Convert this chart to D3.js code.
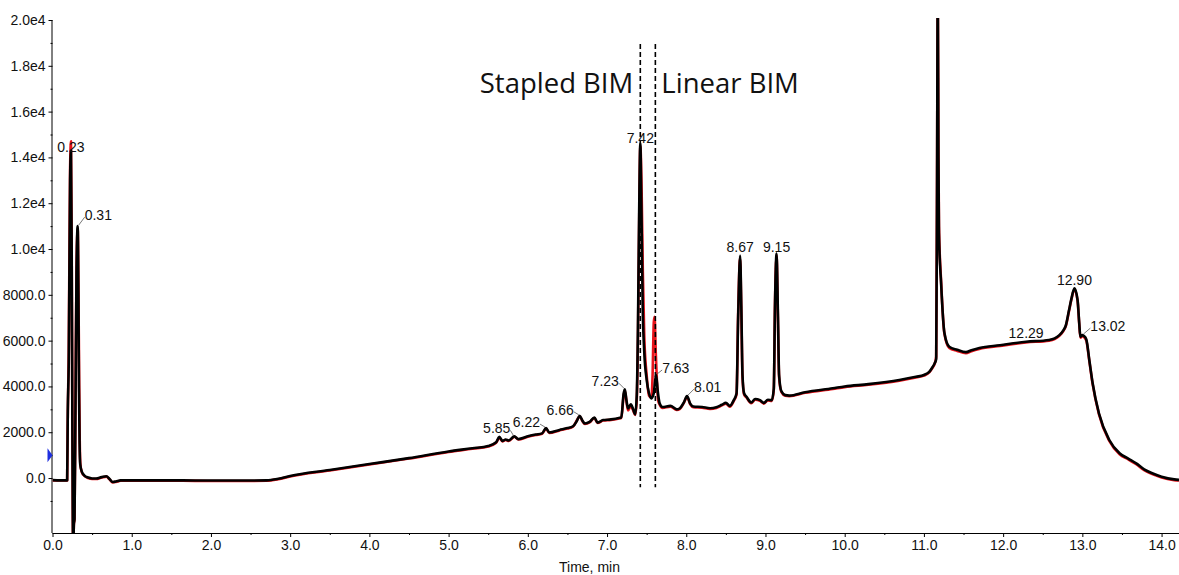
<!DOCTYPE html>
<html>
<head>
<meta charset="utf-8">
<script src="https://cdn.jsdelivr.net/npm/d3@7"></script>
<style>
  body { margin: 0; background: #fff; }
  svg text { font-family: "Liberation Sans", Arial, sans-serif; }
</style>
</head>
<body>
<svg id="chart"></svg>
<script>
// chromatogram traces: [time (min), intensity]
const blackTrace = [
  [0.00,-90],[0.10,-100],[0.185,-100],[0.193,2900],[0.205,5000],[0.222,13000],[0.233,14300],
  [0.242,10000],[0.25,3000],[0.256,-1500],[0.262,-3200],[0.27,-2000],[0.278,-1800],[0.29,3000],
  [0.303,9000],[0.318,11000],[0.327,8000],[0.334,4000],[0.342,1500],[0.35,600],[0.37,280],
  [0.40,120],[0.45,20],[0.50,-20],[0.55,-20],[0.62,40],[0.68,80],[0.72,-40],[0.76,-170],
  [0.80,-150],[0.86,-100],[1.2,-100],[1.6,-100],[2.0,-110],[2.4,-110],[2.7,-100],[2.85,-30],
  [3.0,90],[3.5,350],[4.0,610],[4.5,870],[5.0,1160],[5.3,1300],[5.5,1400],[5.6,1560],
  [5.64,1800],[5.68,1620],[5.72,1680],[5.76,1640],[5.83,1820],[5.88,1700],[6.0,1820],[6.1,1900],
  [6.18,1950],[6.23,2180],[6.27,1990],[6.4,2100],[6.5,2180],[6.57,2260],[6.62,2500],[6.655,2720],
  [6.69,2500],[6.72,2380],[6.78,2450],[6.84,2640],[6.88,2420],[6.95,2530],[7.05,2560],[7.15,2620],
  [7.18,2650],[7.21,3700],[7.225,3880],[7.245,3400],[7.265,3040],[7.30,3220],[7.33,3000],
  [7.355,2780],[7.375,3600],[7.39,6500],[7.405,11500],[7.42,14600],[7.435,11500],[7.45,7500],
  [7.47,5500],[7.50,4300],[7.53,3700],[7.56,3480],[7.59,3700],[7.605,4200],[7.62,4500],
  [7.64,3800],[7.665,3250],[7.70,3100],[7.80,3150],[7.88,3000],[7.92,3050],[7.97,3300],
  [8.01,3580],[8.05,3250],[8.09,3120],[8.2,3100],[8.3,3050],[8.38,3090],[8.45,3200],[8.5,3280],
  [8.55,3150],[8.6,3400],[8.635,3700],[8.655,7000],[8.68,9700],[8.695,7500],[8.71,4500],
  [8.73,3700],[8.76,3550],[8.82,3300],[8.87,3450],[8.93,3400],[8.98,3280],[9.03,3420],
  [9.08,3400],[9.105,3900],[9.12,7500],[9.14,9800],[9.157,7200],[9.172,4500],[9.20,3800],
  [9.25,3620],[9.30,3600],[9.5,3750],[9.85,3920],[10.0,4000],[10.3,4100],[10.69,4280],
  [10.9,4420],[11.0,4500],[11.07,4650],[11.11,4850],[11.135,5000],[11.155,5200],[11.165,12000],
  [11.175,21500],[11.183,14000],[11.19,10700],[11.217,8500],[11.259,6330],[11.32,5730],
  [11.42,5600],[11.53,5500],[11.6,5580],[11.7,5680],[11.96,5800],[12.29,5950],[12.58,6030],
  [12.65,6100],[12.71,6240],[12.76,6450],[12.79,6650],[12.83,7300],[12.86,7800],[12.90,8280],
  [12.94,7770],[12.96,6800],[12.975,6170],[13.0,6240],[13.02,6200],[13.05,6050],[13.09,5100],
  [13.13,4140],[13.21,2820],[13.34,1660],[13.47,1080],[13.58,850],[13.68,640],[13.78,380],
  [13.89,200],[14.0,60],[14.16,-60],[14.22,-80]
];

const redTrace = [
  [0.00,-100],[0.10,-110],[0.185,-110],[0.19,2000],[0.205,5500],[0.222,13500],[0.233,14700],
  [0.242,10500],[0.25,3200],[0.256,-1500],[0.262,-3200],[0.27,-2000],[0.278,-1800],[0.29,3200],
  [0.303,9200],[0.318,10900],[0.327,8500],[0.336,4500],[0.344,1600],[0.352,600],[0.37,260],
  [0.40,100],[0.45,0],[0.50,-40],[0.55,-40],[0.62,20],[0.68,60],[0.72,-60],[0.76,-190],
  [0.80,-170],[0.86,-120],[1.2,-120],[1.6,-120],[2.0,-130],[2.4,-130],[2.7,-120],[2.85,-50],
  [3.0,70],[3.5,330],[4.0,590],[4.5,850],[5.0,1140],[5.3,1280],[5.5,1380],[5.6,1540],
  [5.64,1760],[5.68,1600],[5.72,1660],[5.76,1620],[5.83,1800],[5.88,1680],[6.0,1800],[6.1,1880],
  [6.18,1930],[6.23,2160],[6.27,1970],[6.4,2080],[6.5,2160],[6.57,2240],[6.62,2520],[6.655,2700],
  [6.69,2480],[6.72,2360],[6.78,2430],[6.84,2620],[6.88,2400],[6.95,2510],[7.05,2540],[7.15,2600],
  [7.18,2630],[7.21,3600],[7.225,3800],[7.245,3350],[7.265,2950],[7.30,3150],[7.33,2950],
  [7.355,2750],[7.375,3400],[7.39,6000],[7.405,11000],[7.42,14500],[7.437,12500],[7.452,9000],
  [7.47,6200],[7.50,4500],[7.53,3600],[7.56,3500],[7.575,4500],[7.59,6800],[7.60,7040],
  [7.615,5500],[7.63,4200],[7.645,3400],[7.665,3200],[7.70,3060],[7.80,3120],[7.88,2970],
  [7.92,3020],[7.97,3280],[8.01,3540],[8.05,3220],[8.09,3090],[8.2,3070],[8.3,3020],[8.38,3060],
  [8.45,3170],[8.5,3250],[8.55,3120],[8.6,3370],[8.635,3650],[8.655,7200],[8.68,9600],
  [8.695,7300],[8.71,4400],[8.73,3650],[8.76,3520],[8.82,3270],[8.87,3420],[8.93,3370],
  [8.98,3250],[9.03,3390],[9.08,3370],[9.105,3850],[9.12,7600],[9.14,9700],[9.157,7000],
  [9.172,4400],[9.20,3760],[9.25,3590],[9.30,3570],[9.5,3720],[9.85,3890],[10.0,3970],
  [10.3,4070],[10.69,4250],[10.9,4390],[11.0,4470],[11.07,4620],[11.11,4820],[11.135,4980],
  [11.155,5300],[11.165,12500],[11.175,21500],[11.183,14500],[11.19,11000],[11.217,8600],
  [11.259,6300],[11.32,5680],[11.42,5550],[11.53,5450],[11.6,5540],[11.7,5640],[11.96,5770],
  [12.29,5920],[12.58,6000],[12.65,6070],[12.71,6210],[12.76,6420],[12.79,6620],[12.83,7260],
  [12.86,7760],[12.90,8240],[12.94,7730],[12.96,6760],[12.975,6130],[13.0,6200],[13.02,6160],
  [13.05,6000],[13.09,5060],[13.13,4100],[13.21,2780],[13.34,1620],[13.47,1040],[13.58,810],
  [13.68,600],[13.78,340],[13.89,160],[14.0,20],[14.16,-90],[14.22,-110]
];

const peakTimes = [0.23, 0.31, 5.85, 6.22, 6.66, 7.23, 7.42, 7.63, 8.01, 8.67, 9.15, 12.29, 12.90, 13.02];
const peakTexts = ["0.23", "0.31", "5.85", "6.22", "6.66", "7.23", "7.42", "7.63", "8.01", "8.67", "9.15", "12.29", "12.90", "13.02"];

const xTickValues = [0,1,2,3,4,5,6,7,8,9,10,11,12,13,14];
const xTickLabels = ["0.0","1.0","2.0","3.0","4.0","5.0","6.0","7.0","8.0","9.0","10.0","11.0","12.0","13.0","14.0"];
const xMinorTicks = [0.5,1.5,2.5,3.5,4.5,5.5,6.5,7.5,8.5,9.5,10.5,11.5,12.5,13.5];
const yTickValues = [0,2000,4000,6000,8000,10000,12000,14000,16000,18000,20000];
const yTickLabels = ["0.0","2000.0","4000.0","6000.0","8000.0","1.0e4","1.2e4","1.4e4","1.6e4","1.8e4","2.0e4"];
const yMinorTicks = [-1000,1000,3000,5000,7000,9000,11000,13000,15000,17000,19000];

const dividerTimes = [7.42, 7.61];
const regionNames = ["Stapled BIM", "Linear BIM"];
const markerValue = 1000;

const svgWidth = 1179, svgHeight = 575;
const margin = { top: 20, right: 0, bottom: 42, left: 52.5 };
const width = svgWidth - margin.left - margin.right;
const height = svgHeight - margin.top - margin.bottom;

const svg = d3.select("#chart")
  .attr("width", svgWidth)
  .attr("height", svgHeight);

const g = svg.append("g")
  .attr("transform", "translate(" + margin.left + "," + margin.top + ")");

const xScale = d3.scaleLinear().domain([0, 14.22]).range([0, width]);
const yScale = d3.scaleLinear().domain([-2400, 20000]).range([height, 0]);

g.append("clipPath").attr("id", "plotClip")
  .append("rect")
  .attr("x", 0).attr("y", -2)
  .attr("width", width).attr("height", height + 2);

// axes: minor ticks first, then major ticks with labels
g.append("g")
  .attr("transform", "translate(0," + height + ")")
  .call(d3.axisBottom(xScale).tickValues(xMinorTicks).tickSize(2).tickFormat(""))
  .call(a => a.select(".domain").remove());

g.append("g")
  .attr("transform", "translate(0," + height + ")")
  .call(d3.axisBottom(xScale).tickValues(xTickValues).tickSize(4).tickSizeOuter(0).tickPadding(3)
    .tickFormat((d, i) => xTickLabels[i]))
  .call(a => a.select(".domain").attr("d", "M0,0.5H" + width))
  .call(a => a.selectAll("text").attr("font-size", 14).attr("fill", "#111"));

g.append("g")
  .call(d3.axisLeft(yScale).tickValues(yMinorTicks).tickSize(2).tickFormat(""))
  .call(a => a.select(".domain").remove());

g.append("g")
  .call(d3.axisLeft(yScale).tickValues(yTickValues).tickSize(4).tickSizeOuter(0).tickPadding(3)
    .tickFormat((d, i) => yTickLabels[i]))
  .call(a => a.select(".domain").attr("d", "M-0.5,0V" + height))
  .call(a => a.selectAll("text").attr("font-size", 14).attr("fill", "#111"));

g.append("text")
  .attr("x", svgWidth / 2 - margin.left)
  .attr("y", height + 39)
  .attr("text-anchor", "middle")
  .attr("font-size", 14)
  .attr("fill", "#111")
  .text("Time, min");

// blue marker on the y axis
g.append("path")
  .attr("d", "M-5," + (yScale(markerValue) - 7) + "L0," + yScale(markerValue) + "L-5," + (yScale(markerValue) + 7) + "Z")
  .attr("fill", "#1f2fe0");

const line = d3.line()
  .x(d => xScale(d[0]))
  .y(d => yScale(d[1]))
  .curve(d3.curveMonotoneX);

const traces = g.append("g").attr("clip-path", "url(#plotClip)");

traces.append("path")
  .datum(redTrace)
  .attr("fill", "none")
  .attr("stroke", "#e8141b")
  .attr("stroke-width", 2.6)
  .attr("stroke-linejoin", "round")
  .attr("d", line);

traces.append("path")
  .datum(blackTrace)
  .attr("fill", "none")
  .attr("stroke", "#000")
  .attr("stroke-width", 2.6)
  .attr("stroke-linejoin", "round")
  .attr("d", line);

// dashed dividers and region names
g.selectAll(".divider")
  .data(dividerTimes)
  .join("line")
  .attr("class", "divider")
  .attr("x1", d => xScale(d)).attr("x2", d => xScale(d))
  .attr("y1", yScale(18950)).attr("y2", yScale(-400))
  .attr("stroke", "#000")
  .attr("stroke-width", 1.6)
  .attr("stroke-dasharray", "5,3");

g.selectAll(".region")
  .data(regionNames)
  .join("text")
  .attr("class", "region")
  .attr("x", (d, i) => xScale(dividerTimes[i]) + (i === 0 ? -7 : 6))
  .attr("y", yScale(16800))
  .attr("text-anchor", (d, i) => i === 0 ? "end" : "start")
  .style("font-family", "'Open Sans', 'Noto Sans', sans-serif")
  .attr("font-size", 27.5)
  .attr("fill", "#111")
  .text(d => d);

// peak labels: placed on the local maximum of the black trace near each time
const labelStyle = {
  "0.23":  { anchor: "middle", dx: 0,  dy: 1 },
  "0.31":  { anchor: "start",  dx: 7,  dy: -6, leader: true },
  "5.85":  { anchor: "end",    dx: -4, dy: -3, leader: true },
  "6.22":  { anchor: "end",    dx: -6, dy: -1, leader: true },
  "6.66":  { anchor: "end",    dx: -6, dy: -1, leader: true },
  "7.23":  { anchor: "end",    dx: -6, dy: -3, leader: true },
  "7.42":  { anchor: "middle", dx: 0,  dy: -1 },
  "7.63":  { anchor: "start",  dx: 6,  dy: -2, leader: true },
  "8.01":  { anchor: "start",  dx: 7,  dy: -4, leader: true },
  "8.67":  { anchor: "middle", dx: 0,  dy: -4 },
  "9.15":  { anchor: "middle", dx: 0,  dy: -2 },
  "12.29": { anchor: "middle", dx: 0,  dy: -4 },
  "12.90": { anchor: "middle", dx: 0,  dy: -3 },
  "13.02": { anchor: "start",  dx: 8,  dy: -4, leader: true }
};

const peaks = peakTimes.map((t, i) => {
  const near = blackTrace.filter(p => Math.abs(p[0] - t) <= 0.031);
  const top = d3.greatest(near, p => p[1]);
  return { text: peakTexts[i], x: xScale(top[0]), y: yScale(top[1]), s: labelStyle[peakTexts[i]] };
});

g.selectAll(".leader")
  .data(peaks.filter(p => p.s.leader))
  .join("line")
  .attr("class", "leader")
  .attr("x1", p => p.x + (p.s.dx > 0 ? 1 : -1))
  .attr("y1", p => p.y - 1)
  .attr("x2", p => p.x + p.s.dx)
  .attr("y2", p => p.y + p.s.dy - 3)
  .attr("stroke", "#555")
  .attr("stroke-width", 0.8);

g.selectAll(".peak")
  .data(peaks)
  .join("text")
  .attr("class", "peak")
  .attr("x", p => p.x + p.s.dx)
  .attr("y", p => p.y + p.s.dy)
  .attr("text-anchor", p => p.s.anchor)
  .attr("font-size", 14)
  .attr("fill", "#111")
  .text(p => p.text);
</script>
</body>
</html>
